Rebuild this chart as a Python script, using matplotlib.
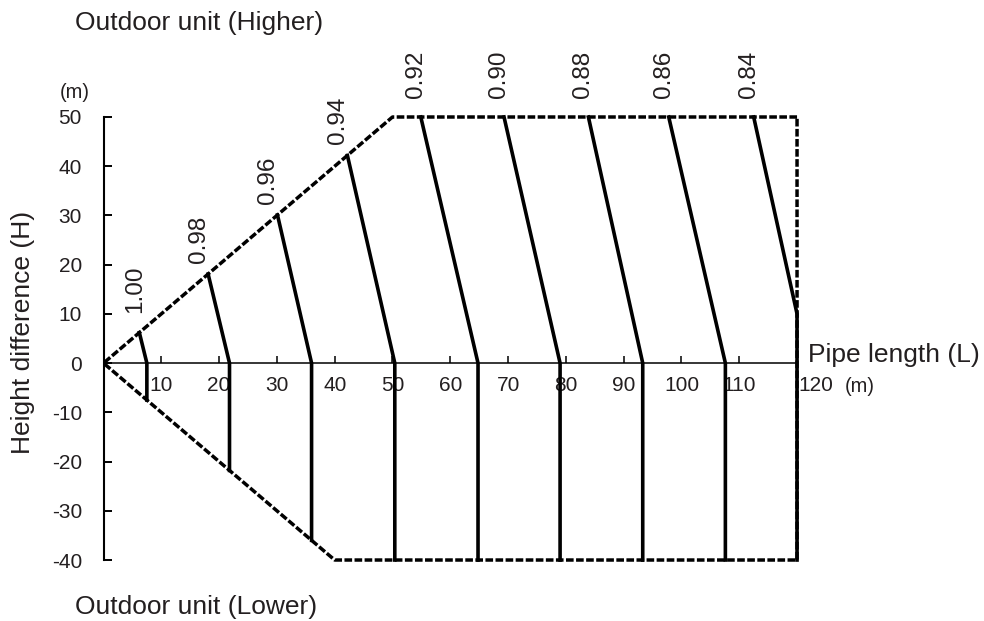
import matplotlib.pyplot as plt

plt.rcParams["font.family"] = ["Liberation Sans", "DejaVu Sans"]
plt.rcParams["axes.unicode_minus"] = False

TEXT = "#231F20"

# correction factor curves
factor_labels = ["1.00", "0.98", "0.96", "0.94", "0.92", "0.90", "0.88", "0.86", "0.84"]
bottom_x = [7.5, 21.8, 36.0, 50.4, 64.8, 79.0, 93.3, 107.6, 120.0]
bottom_y = [-7.5, -21.8, -36.0, -40, -40, -40, -40, -40, -40]
knee_y = [0, 0, 0, 0, 0, 0, 0, 0, 10]
top_x = [6.2, 18.1, 30.1, 42.2, 54.9, 69.3, 83.9, 97.8, 112.5]
top_y = [6.2, 18.1, 30.1, 42.2, 50, 50, 50, 50, 50]

# outline of the allowed range
boundary_x = [120, 50, 0, 40, 120, 120]
boundary_y = [50, 50, 0, -40, -40, 50]

x_ticks = [10, 20, 30, 40, 50, 60, 70, 80, 90, 100, 110]
y_ticks = [-40, -30, -20, -10, 0, 10, 20, 30, 40, 50]

fig = plt.figure(figsize=(9.84, 6.21), dpi=100)
ax = fig.add_axes([0.1052, 0.0982, 0.7048, 0.7134])

ax.plot(boundary_x, boundary_y, color="black", lw=2.5, linestyle=(0, (2.2, 0.7)),
        clip_on=False, zorder=3)

for lab, bx, by, ky, tx, ty in zip(factor_labels, bottom_x, bottom_y, knee_y, top_x, top_y):
    ax.plot([bx, bx, tx], [by, ky, ty], color="black", lw=2.6, clip_on=False,
            solid_joinstyle="round", zorder=4)
    if ty >= 50:
        off = (-5, 19)
    elif lab == "1.00":
        off = (-4, 20)
    else:
        off = (-9, 11)
    ax.annotate(lab, (tx, ty), xytext=off, textcoords="offset pixels",
                rotation=90, ha="center", va="bottom", fontsize=17.5, color=TEXT)

ax.set_xlim(0, 120)
ax.set_ylim(-40, 50)
for s in ["top", "right"]:
    ax.spines[s].set_visible(False)
ax.spines["bottom"].set_position(("data", 0))
ax.spines["bottom"].set_linewidth(1.1)
ax.spines["left"].set_linewidth(1.5)

ax.set_xticks(x_ticks)
ax.set_yticks(y_ticks)
ax.tick_params(axis="x", direction="in", length=5, width=1.1, pad=9.5,
               labelsize=15, labelcolor=TEXT)
ax.tick_params(axis="y", direction="in", length=6, width=1.4, pad=15.5,
               labelsize=15, labelcolor=TEXT)

ax.annotate("120", (120, 0), xytext=(19, -13), textcoords="offset pixels",
            ha="center", va="top", fontsize=15, color=TEXT)

fig.text(23 / 984, 1 - 332 / 621, "Height difference (H)", rotation=90,
         ha="center", va="center", fontsize=19, color=TEXT)
fig.text(808 / 984, 1 - 355 / 621, "Pipe length (L)", ha="left", va="center",
         fontsize=19, color=TEXT)
fig.text(860 / 984, 1 - 387 / 621, "(m)", ha="center", va="center",
         fontsize=14.5, color=TEXT)
fig.text(75 / 984, 1 - 93 / 621, "(m)", ha="center", va="center",
         fontsize=14.5, color=TEXT)
fig.text(75 / 984, 1 - 23 / 621, "Outdoor unit (Higher)", ha="left", va="center",
         fontsize=19, color=TEXT)
fig.text(75 / 984, 1 - 607 / 621, "Outdoor unit (Lower)", ha="left", va="center",
         fontsize=19, color=TEXT)

fig.savefig("out.png", dpi=100)
